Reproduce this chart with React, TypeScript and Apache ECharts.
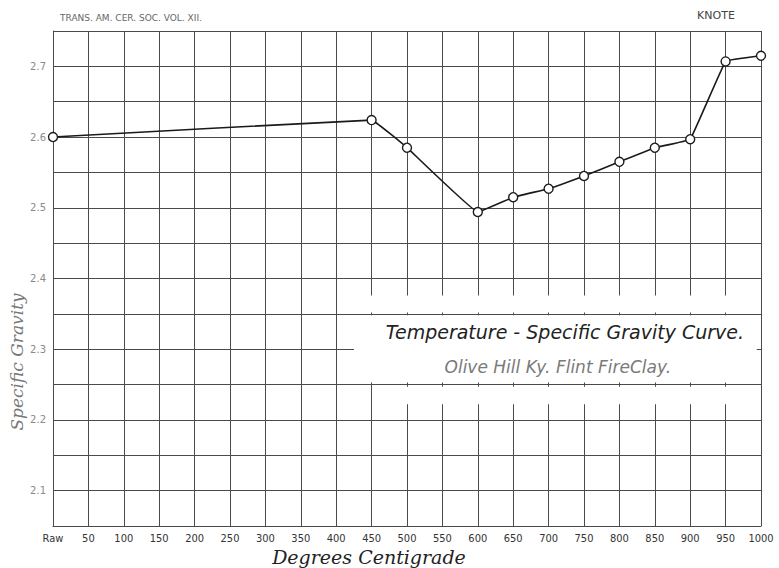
import React, { useEffect, useRef } from "react";
import * as echarts from "echarts";

const temperatures = [0, 450, 500, 600, 650, 700, 750, 800, 850, 900, 950, 1000];
const gravity = [2.6, 2.624, 2.585, 2.494, 2.515, 2.527, 2.545, 2.565, 2.585, 2.597, 2.707, 2.715];
const xTickLabels: Record<number, string> = { 0: "Raw" };
const chartTitle = "Temperature - Specific Gravity Curve.";
const chartSubtitle = "Olive Hill Ky. Flint FireClay.";
const headerLeft = "TRANS. AM. CER. SOC. VOL. XII.";
const headerRight = "KNOTE";
const xName = "Degrees Centigrade";
const yName = "Specific Gravity";

export default function App() {
  const ref = useRef<HTMLDivElement>(null);
  useEffect(() => {
    document.body.style.margin = "0";
    if (!ref.current) return;
    const chart = echarts.init(ref.current, undefined, { renderer: "svg" });
    const gridColor = "#4a4a4a";
    chart.setOption({
      animation: false,
      backgroundColor: "#ffffff",
      grid: { left: 53, right: 18, top: 31, bottom: 42 },
      xAxis: {
        type: "value",
        min: 0,
        max: 1000,
        interval: 50,
        axisLine: { show: true, lineStyle: { color: gridColor, width: 1 } },
        axisTick: { show: false },
        splitLine: { show: true, lineStyle: { color: gridColor, width: 1 } },
        axisLabel: {
          color: "#333",
          fontSize: 11,
          fontFamily: "Liberation Sans Narrow, DejaVu Sans Condensed, sans-serif",
          margin: 7,
          formatter: (v: number) => (xTickLabels[v] !== undefined ? xTickLabels[v] : String(v)),
        },
      },
      yAxis: {
        type: "value",
        min: 2.05,
        max: 2.75,
        interval: 0.05,
        axisLine: { show: true, lineStyle: { color: gridColor, width: 1 } },
        axisTick: { show: false },
        splitLine: { show: true, lineStyle: { color: gridColor, width: 1 } },
        axisLabel: {
          color: "#8a8a8a",
          fontSize: 10,
          fontFamily: "DejaVu Sans, sans-serif",
          margin: 7,
          formatter: (v: number) => {
            const t = v * 10;
            return Math.abs(t - Math.round(t)) < 1e-6 ? v.toFixed(1) : "";
          },
        },
      },
      series: [
        {
          type: "line",
          data: temperatures.map((t, i) => [t, gravity[i]]),
          smooth: 0.06,
          symbol: "circle",
          symbolSize: 9,
          itemStyle: { color: "#ffffff", borderColor: "#1a1a1a", borderWidth: 1.4 },
          lineStyle: { color: "#1a1a1a", width: 1.6 },
          z: 5,
        },
      ],
    });

    const px = (x: number, y: number) => chart.convertToPixel({ gridIndex: 0 }, [x, y]) as number[];
    const rectBetween = (x0: number, x1: number, y0: number, y1: number) => {
      const a = px(x0, y0);
      const b = px(x1, y1);
      return {
        type: "rect",
        z: 10,
        silent: true,
        shape: { x: Math.min(a[0], b[0]), y: Math.min(a[1], b[1]), width: Math.abs(b[0] - a[0]), height: Math.abs(b[1] - a[1]) },
        style: { fill: "#ffffff" },
      };
    };
    const titlePos = px(723, 2.325);
    const subPos = px(713, 2.275);
    chart.setOption({
      graphic: {
        elements: [
          rectBetween(425, 994, 2.376, 2.352),
          rectBetween(425, 994, 2.348, 2.253),
          rectBetween(478, 972, 2.247, 2.222),
          {
            type: "text",
            z: 11,
            x: titlePos[0],
            y: titlePos[1],
            style: {
              text: chartTitle,
              fill: "#222",
              font: "italic 19px 'DejaVu Sans', sans-serif",
              align: "center",
              verticalAlign: "middle",
            },
          },
          {
            type: "text",
            z: 11,
            x: subPos[0],
            y: subPos[1],
            style: {
              text: chartSubtitle,
              fill: "#7a7a7a",
              font: "italic 17px 'DejaVu Sans', sans-serif",
              align: "center",
              verticalAlign: "middle",
            },
          },
          {
            type: "text",
            z: 11,
            x: 60,
            y: 18,
            style: {
              text: headerLeft,
              fill: "#666",
              font: "9px 'DejaVu Sans', sans-serif",
              align: "left",
              verticalAlign: "middle",
            },
          },
          {
            type: "text",
            z: 11,
            x: 716,
            y: 15,
            style: {
              text: headerRight,
              fill: "#444",
              font: "11px 'DejaVu Sans', sans-serif",
              align: "center",
              verticalAlign: "middle",
            },
          },
          {
            type: "text",
            z: 11,
            x: 369,
            y: 557,
            style: {
              text: xName,
              fill: "#222",
              font: "italic 19px 'DejaVu Serif', serif",
              align: "center",
              verticalAlign: "middle",
            },
          },
          {
            type: "text",
            z: 11,
            x: 17,
            y: 362,
            rotation: Math.PI / 2,
            style: {
              text: yName,
              fill: "#777",
              font: "italic 17px 'DejaVu Serif', serif",
              align: "center",
              verticalAlign: "middle",
            },
          },
        ],
      },
    });
    return () => chart.dispose();
  }, []);
  return <div ref={ref} style={{ width: 779, height: 568 }} />;
}
